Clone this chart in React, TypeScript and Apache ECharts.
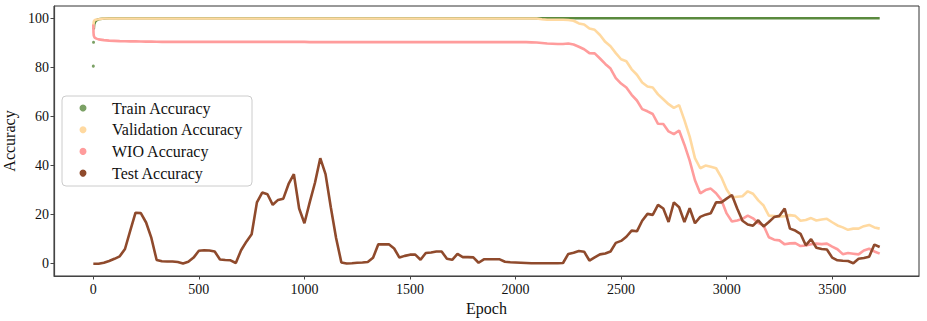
import React, { useEffect, useRef } from "react";
import * as echarts from "echarts";

// x positions: a few early epochs, then every 25 epochs up to 3725
const EARLY_EPOCHS = [0, 1, 2, 4, 8, 15];
const STEP_EPOCHS = Array.from({ length: 149 }, (_, i) => 25 * (i + 1));
const EPOCHS = [...EARLY_EPOCHS, ...STEP_EPOCHS];

const X_TICKS = [0, 500, 1000, 1500, 2000, 2500, 3000, 3500];
const Y_TICKS = [0, 20, 40, 60, 80, 100];

const TRAIN = [
  80.5, 90.2, 95.5, 97.5, 98.5, 99.2,
  99.6, 99.9, 100, 100, 100, 100, 100, 100, 100, 100,
  100, 100, 100, 100, 100, 100, 100, 100, 100, 100,
  100, 100, 100, 100, 100, 100, 100, 100, 100, 100,
  100, 100, 100, 100, 100, 100, 100, 100, 100, 100,
  100, 100, 100, 100, 100, 100, 100, 100, 100, 100,
  100, 100, 100, 100, 100, 100, 100, 100, 100, 100,
  100, 100, 100, 100, 100, 100, 100, 100, 100, 100,
  100, 100, 100, 100, 100, 100, 100, 100, 100, 100,
  100, 100, 100, 100, 100, 100, 100, 100, 100, 100,
  100, 100, 100, 100, 100, 100, 100, 100, 100, 100,
  100, 100, 100, 100, 100, 100, 100, 100, 100, 100,
  100, 100, 100, 100, 100, 100, 100, 100, 100, 100,
  100, 100, 100, 100, 100, 100, 100, 100, 100, 100,
  100, 100, 100, 100, 100, 100, 100, 100, 100, 100,
  100, 100, 100, 100, 100, 100, 100, 100, 100,
];

const VALIDATION = [
  96.0, 97.5, 98.5, 99.0, 99.3, 99.5,
  99.6, 99.9, 99.9, 99.9, 99.9, 99.9, 99.9, 99.9, 99.9, 99.9,
  99.9, 99.9, 99.9, 99.9, 99.9, 99.9, 99.9, 99.9, 99.9, 99.9,
  99.9, 99.9, 99.9, 99.9, 99.9, 99.9, 99.9, 99.9, 99.9, 99.9,
  99.9, 99.9, 99.9, 99.9, 99.9, 99.9, 99.9, 99.9, 99.9, 99.9,
  99.9, 99.9, 99.9, 99.9, 99.9, 99.9, 99.9, 99.9, 99.9, 99.9,
  99.9, 99.9, 99.9, 99.9, 99.9, 99.9, 99.9, 99.9, 99.9, 99.9,
  99.9, 99.9, 99.9, 99.9, 99.9, 99.9, 99.9, 99.9, 99.9, 99.9,
  99.9, 99.9, 99.9, 99.9, 99.9, 99.9, 99.9, 99.9, 99.9, 99.9,
  99.9, 99.9, 99.9, 99.9, 99.6, 99.4, 99.4, 99.4, 99.4, 99.3,
  99.0, 97.9, 97.5, 95.8, 95.3, 93.2, 90.4, 88.6, 85.8, 83.3,
  82.5, 79.2, 77.0, 73.8, 72.2, 71.8, 69.0, 67.0, 65.0, 63.5,
  64.6, 58.5, 51.8, 43.0, 38.9, 40.0, 39.5, 38.9, 35.2, 30.2,
  27.0, 27.3, 27.5, 29.5, 28.5, 25.8, 23.7, 19.6, 19.4, 19.2,
  19.4, 19.8, 19.5, 17.5, 17.8, 18.6, 17.6, 18.0, 18.3, 16.9,
  15.6, 14.8, 13.8, 14.3, 14.3, 15.3, 15.8, 14.8, 14.3,
];

const WIO = [
  97.5, 94.0, 93.0, 92.5, 92.0, 91.7,
  91.4, 91.1, 90.9, 90.8, 90.7, 90.65, 90.6, 90.6, 90.55, 90.5,
  90.5, 90.45, 90.4, 90.4, 90.4, 90.4, 90.4, 90.4, 90.4, 90.4,
  90.4, 90.4, 90.4, 90.4, 90.4, 90.4, 90.4, 90.4, 90.4, 90.4,
  90.4, 90.4, 90.4, 90.4, 90.4, 90.4, 90.4, 90.4, 90.4, 90.4,
  90.3, 90.3, 90.3, 90.3, 90.3, 90.3, 90.3, 90.3, 90.3, 90.3,
  90.3, 90.3, 90.3, 90.3, 90.3, 90.3, 90.3, 90.3, 90.3, 90.3,
  90.3, 90.3, 90.3, 90.3, 90.3, 90.3, 90.3, 90.3, 90.3, 90.3,
  90.3, 90.3, 90.3, 90.3, 90.3, 90.3, 90.3, 90.3, 90.3, 90.3,
  90.3, 90.3, 90.2, 90.1, 89.9, 89.7, 89.6, 89.5, 89.5, 89.7,
  89.3, 88.4, 87.4, 85.8, 85.7, 83.6, 81.4, 79.5, 75.6, 73.4,
  71.8, 68.8, 66.5, 63.0, 62.1, 61.0, 57.0, 56.9, 53.9, 52.8,
  54.3, 48.5, 42.0, 34.0, 28.7, 30.0, 30.6, 28.7, 26.0, 20.5,
  17.2, 17.6, 18.3, 19.6, 18.5, 16.6, 15.6, 10.8, 9.8, 9.5,
  7.9, 8.3, 8.4, 7.2, 7.4, 7.9, 8.2, 8.0, 8.2, 7.0,
  5.9, 3.9, 4.4, 4.1, 3.8, 5.4, 6.1, 5.0, 4.1,
];

const TEST = [
  0, 0, 0, 0, 0, 0,
  0, 0.4, 1.1, 2.0, 3.0, 6.0, 13.5, 20.8, 20.6, 16.8,
  10.5, 1.5, 1.0, 0.9, 0.9, 0.7, 0.1, 0.8, 2.5, 5.3,
  5.5, 5.4, 5.0, 1.7, 1.5, 1.4, 0.3, 5.5, 9.0, 12.0,
  25.0, 29.0, 28.3, 24.0, 26.0, 26.5, 32.5, 36.5, 22.5, 16.5,
  25.0, 33.0, 43.0, 36.5, 23.0, 10.5, 0.5, 0.1, 0.2, 0.4,
  0.5, 0.7, 2.4, 7.9, 7.9, 7.9, 6.2, 2.5, 3.2, 3.7,
  3.7, 1.6, 4.4, 4.6, 5.0, 5.0, 2.0, 1.6, 4.0, 2.7,
  2.7, 2.6, 0.4, 1.8, 1.8, 1.8, 1.8, 0.8, 0.6, 0.5,
  0.4, 0.3, 0.2, 0.2, 0.2, 0.2, 0.2, 0.2, 0.3, 4.0,
  4.5, 5.2, 4.9, 1.3, 2.6, 3.8, 4.2, 5.0, 8.5, 9.3,
  11.0, 13.5, 13.2, 17.5, 20.3, 19.9, 24.0, 22.5, 17.0, 25.0,
  23.0, 17.0, 22.6, 16.5, 19.1, 20.0, 20.6, 25.0, 25.0, 26.5,
  28.0, 22.5, 17.5, 16.0, 15.5, 17.7, 15.2, 17.0, 19.0, 19.5,
  22.5, 14.3, 13.5, 12.2, 7.5, 10.0, 6.5, 6.0, 5.8, 2.5,
  1.4, 1.2, 1.1, 0.2, 2.0, 2.3, 2.8, 7.8, 6.8,
];

const NAMES = ["Train Accuracy", "Validation Accuracy", "WIO Accuracy", "Test Accuracy"];
const COLORS = ["#5a8a3e", "#ffd9a0", "#ff9c9c", "#8f4a2c"];

const FONT = "'Liberation Serif', 'Times New Roman', serif";

function pairs(xs: number[], ys: number[]) {
  return ys.map((y, i) => [xs[i], y]);
}

export default function App() {
  const ref = useRef<HTMLDivElement>(null);

  useEffect(() => {
    document.body.style.margin = "0";
    if (!ref.current) return;
    const chart = echarts.init(ref.current, undefined, { renderer: "svg" });
    const xMax = EPOCHS[EPOCHS.length - 1];
    const xPad = xMax * 0.05;
    const axisColor = "#444";
    const trainPts = pairs(EPOCHS, TRAIN);
    const lineSeries = (name: string, color: string, data: number[][]) => ({
      name,
      type: "line",
      data,
      showSymbol: false,
      symbol: "circle",
      lineStyle: { color, width: 2.6 },
      itemStyle: { color },
      color,
    });
    chart.setOption({
      animation: false,
      textStyle: { fontFamily: FONT },
      grid: {
        left: 54,
        right: 8,
        top: 6,
        bottom: 45,
        containLabel: false,
        outerBoundsMode: "none",
        show: true,
        borderColor: "#333",
        borderWidth: 1,
        backgroundColor: "transparent",
      },
      legend: {
        orient: "vertical",
        left: 79.5,
        top: 100,
        itemWidth: 7,
        itemHeight: 7,
        itemGap: 5.7,
        padding: 0,
        textStyle: {
          fontFamily: FONT,
          fontSize: 16,
          color: "#111",
          lineHeight: 16,
          padding: [0, 0, 0, 20.5],
        },
        data: NAMES.map((n) => ({ name: n, icon: "circle" })),
      },
      graphic: [
        {
          type: "rect",
          shape: { x: 62, y: 96, width: 190, height: 90, r: 4 },
          style: { fill: "rgba(255,255,255,0.8)", stroke: "#cccccc", lineWidth: 1 },
          z: 3,
        },
      ],
      xAxis: {
        type: "value",
        min: -xPad,
        max: xMax + xPad,
        name: "Epoch",
        nameLocation: "middle",
        nameGap: 19,
        nameTextStyle: { fontFamily: FONT, fontSize: 16, color: "#111" },
        axisLine: { show: true, onZero: false, lineStyle: { color: axisColor, width: 1.2 } },
        axisTick: { show: true, length: 3.5, customValues: X_TICKS, lineStyle: { color: axisColor } },
        axisLabel: {
          customValues: X_TICKS,
          formatter: (v: number) => String(v),
          fontFamily: FONT,
          fontSize: 14,
          color: "#111",
          margin: 6,
        },
        splitLine: { show: false },
      },
      yAxis: {
        type: "value",
        min: -5,
        max: 105,
        name: "Accuracy",
        nameLocation: "middle",
        nameGap: 28,
        nameTextStyle: { fontFamily: FONT, fontSize: 16, color: "#111" },
        axisLine: { show: true, onZero: false, lineStyle: { color: axisColor, width: 1.2 } },
        axisTick: { show: true, length: 3.5, customValues: Y_TICKS, lineStyle: { color: axisColor } },
        axisLabel: {
          customValues: Y_TICKS,
          formatter: (v: number) => String(v),
          fontFamily: FONT,
          fontSize: 14,
          color: "#111",
          margin: 5,
        },
        splitLine: { show: false },
      },
      series: [
        {
          name: NAMES[0],
          type: "scatter",
          data: trainPts.slice(0, 2),
          symbol: "circle",
          symbolSize: 3,
          itemStyle: { color: COLORS[0] },
          color: COLORS[0],
        },
        lineSeries(NAMES[0], COLORS[0], trainPts.slice(2)),
        lineSeries(NAMES[1], COLORS[1], pairs(EPOCHS, VALIDATION)),
        lineSeries(NAMES[2], COLORS[2], pairs(EPOCHS, WIO)),
        lineSeries(NAMES[3], COLORS[3], pairs(EPOCHS, TEST)),
      ],
    });
    return () => chart.dispose();
  }, []);

  return <div ref={ref} style={{ width: 927, height: 321 }} />;
}
